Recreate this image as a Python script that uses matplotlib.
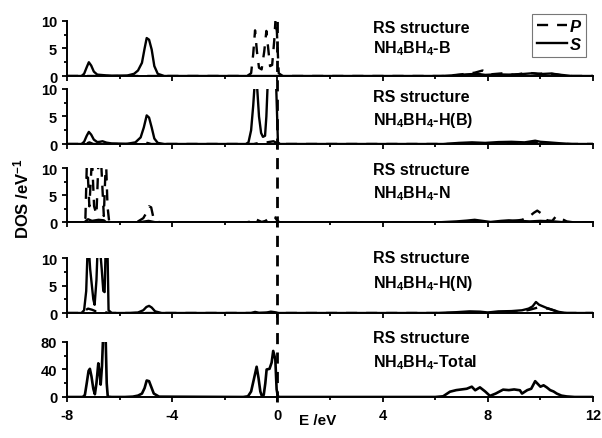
# -*- coding: utf-8 -*-
"""
plot.py
DOS parcial do NH4BH4 (estrutura RS): B, H(B), N, H(N) e total.
"""

import matplotlib
matplotlib.use("Agg")
import matplotlib.pyplot as plt
from matplotlib.ticker import MultipleLocator

plt.rcParams["font.family"] = "Liberation Sans"
plt.rcParams["font.weight"] = "bold"
plt.rcParams["axes.unicode_minus"] = False
plt.rcParams["mathtext.fontset"] = "custom"
plt.rcParams["mathtext.rm"] = "Liberation Sans:bold"
plt.rcParams["mathtext.it"] = "Liberation Sans:bold:italic"
plt.rcParams["mathtext.bf"] = "Liberation Sans:bold"
plt.rcParams["mathtext.default"] = "rm"

FERMI = 0.0

# ---- B ----
b_s_e = [-8, -7.45, -7.35, -7.25, -7.17, -7.08, -6.98, -6.85, -6.6, -6.3, -5.7, -5.45,
         -5.3, -5.15, -5.05, -4.97, -4.88, -4.78, -4.68, -4.55, -4.3, 6.2, 6.8, 7.2, 7.6,
         7.9, 8.3, 8.8, 9.3, 9.7, 10.0, 10.4, 10.8, 11.2, 12]
b_s = [0, 0, 0.4, 1.6, 2.5, 1.9, 0.8, 0.25, 0.15, 0.05, 0.1, 0.4,
       1.0, 2.4, 5.0, 6.9, 6.6, 4.8, 1.8, 0.4, 0, 0, 0.15, 0.3, 0.4,
       0.2, 0.3, 0.25, 0.35, 0.5, 0.35, 0.45, 0.2, 0, 0]
b_p_e = [-8, -1.15, -1.0, -0.92, -0.85, -0.78, -0.7, -0.6, -0.5, -0.42, -0.35, -0.28,
         -0.2, -0.12, -0.07, -0.02, 0.05, 0.2, 6.4, 7.0, 7.5, 7.8, 8.1, 8.6, 9.0, 9.5,
         9.9, 10.3, 10.7, 11.0, 12]
b_p = [0, 0, 0.5, 4.0, 8.3, 4.5, 1.5, 1.2, 4.5, 8.2, 5.0, 1.8,
       2.0, 6.5, 10.5, 8.0, 0.5, 0, 0, 0.3, 0.6, 1.0, 0.3, 0.5, 0.2, 0.6,
       0.4, 0.5, 0.2, 0, 0]

# ---- H(B) ----
hb_s_e = [-8, -7.45, -7.35, -7.25, -7.17, -7.08, -6.98, -6.85, -6.75, -6.65, -6.5, -6.3,
          -5.7, -5.4, -5.2, -5.08, -4.97, -4.88, -4.78, -4.68, -4.55, -4.3, -1.2, -1.1,
          -1.0, -0.92, -0.85, -0.78, -0.7, -0.62, -0.55, -0.47, -0.42, -0.37, -0.25,
          -0.12, -0.05, 0.02, 0.1, 6.3, 6.9, 7.4, 7.9, 8.4, 8.9, 9.4, 9.8, 10.0, 10.3,
          10.7, 11.2, 12]
hb_s = [0, 0, 0.4, 1.5, 2.2, 1.7, 0.8, 0.35, 0.4, 0.5, 0.25, 0.1,
        0.05, 0.3, 1.2, 3.0, 5.2, 4.8, 3.0, 1.0, 0.2, 0, 0, 0.3,
        2.5, 7.0, 12.0, 11.0, 5.0, 2.0, 1.3, 1.5, 5.0, 11.0, 14.0,
        13.0, 11.0, 0.3, 0, 0, 0.2, 0.3, 0.2, 0.35, 0.4, 0.3, 0.6, 0.4, 0.3,
        0.15, 0, 0]
hb_p_e = [-8, -7.3, -7.15, -7.0, -5.1, -4.95, -4.8, -0.9, -0.7, -0.4, -0.15, -0.03, 0.1,
          7.0, 8.0, 9.0, 10.0, 11.0, 12]
hb_p = [0, 0, 0.3, 0, 0, 0.2, 0, 0, 0.2, 0.3, 0.5, 0.2, 0,
        0, 0.15, 0.1, 0.2, 0, 0]

# ---- N ----
n_s_e = [-8, -7.35, -7.2, -7.05, -6.8, -6.6, -6.5, -5.3, -4.9, -4.6, 6.0, 6.8, 7.2,
         7.5, 7.8, 8.1, 8.5, 8.8, 9.2, 9.6, 10.0, 10.5, 11, 12]
n_s = [0, 0, 0.6, 0.3, 0.5, 0.4, 0, 0, 0.3, 0, 0, 0.2, 0.35,
       0.5, 0.3, 0.1, 0.3, 0.4, 0.3, 0.2, 0.3, 0.2, 0, 0]
n_p_e = [-8, -7.4, -7.3, -7.24, -7.15, -7.05, -6.97, -6.88, -6.8, -6.7, -6.6, -6.52,
         -6.46, -6.4, -6.2, -5.5, -5.3, -5.1, -4.98, -4.88, -4.8, -4.72, -4.62, -4.4,
         -1.2, -1.0, -0.88, -0.78, -0.6, -0.45, -0.32, -0.2, -0.1, 0.0, 0.1, 6.5, 8.6,
         9.0, 9.3, 9.55, 9.75, 9.88, 10.05, 10.25, 10.45, 10.6, 10.75, 11.0, 11.3, 12]
n_p = [0, 0, 0.8, 12, 3, 12, 3, 1.5, 12, 11, 1.2, 12,
       3, 0.3, 0, 0, 0.2, 0.8, 1.8, 3.0, 2.8, 1.0, 0.2, 0,
       0, 0.2, 0.8, 0.5, 0.1, 0.3, 0.8, 1.2, 1.0, 0.3, 0, 0, 0,
       0.3, 0.5, 1.0, 1.8, 2.2, 1.6, 0.4, 0.3, 1.2, 0.8, 0.2, 0, 0]

# ---- H(N) ----
hn_s_e = [-8, -7.45, -7.35, -7.27, -7.2, -7.12, -7.0, -6.95, -6.88, -6.82, -6.75, -6.68,
          -6.62, -6.57, -6.52, -6.47, -6.42, -6.3, -5.6, -5.3, -5.1, -4.98, -4.88, -4.78,
          -4.65, -4.4, -1.0, -0.85, -0.7, -0.4, -0.25, -0.1, 0.05, 6.0, 6.8, 7.3, 7.7,
          8.0, 8.4, 8.9, 9.3, 9.55, 9.7, 9.83, 9.95, 10.1, 10.25, 10.45, 10.7, 11.0, 12]
hn_s = [0, 0, 0.5, 4, 14, 8, 2.5, 1.5, 6, 14, 12, 8,
        4.0, 3.8, 14, 14, 0.5, 0, 0, 0.1, 0.5, 1.1, 1.3, 1.0,
        0.3, 0, 0, 0.2, 0.05, 0.1, 0.25, 0.15, 0, 0, 0.15, 0.3, 0.25,
        0.1, 0.3, 0.35, 0.5, 0.8, 1.2, 2.0, 1.5, 1.2, 0.9, 0.6, 0.2, 0, 0]
hn_p_e = [-8, -7.45, -7.3, -7.2, -7.05, -6.9, -6.6, -6.4, 9.0, 9.6, 9.9, 10.3, 10.8, 12]
hn_p = [0, 0, 0.5, 0.8, 0.6, 0.3, 0.2, 0, 0, 0.6, 1.0, 0.8, 0, 0]

# ---- Total ----
tot_e = [-8, -7.4, -7.32, -7.25, -7.18, -7.13, -7.07, -7.0, -6.94, -6.88, -6.81, -6.76,
         -6.72, -6.67, -6.63, -6.53, -6.49, -6.45, -6.3, -5.8, -5.5, -5.3, -5.15, -5.05,
         -4.97, -4.88, -4.8, -4.7, -4.5, -1.3, -1.12, -1.0, -0.9, -0.79, -0.72, -0.65,
         -0.6, -0.52, -0.46, -0.41, -0.3, -0.22, -0.16, -0.08, -0.03, 0.02, 0.1, 6.0,
         6.3, 6.56, 6.8, 7.0, 7.2, 7.39, 7.52, 7.7, 7.9, 8.08, 8.3, 8.58, 8.8, 9.0, 9.22,
         9.3, 9.5, 9.65, 9.8, 10.0, 10.12, 10.24, 10.37, 10.5, 10.62, 10.8, 11.0, 11.3, 12]
tot_s = [0, 0, 3, 20, 38, 41, 30, 12, 4, 20, 49, 35,
         18, 45, 85, 85, 20, 0.5, 0, 0, 0.5, 2, 5, 13,
         24, 23, 15, 5, 0.5, 0, 1, 8, 25, 44, 28, 8,
         2.4, 3, 20, 40, 41, 50, 67, 55, 11, 0.5, 0, 0,
         1, 7.7, 10, 11, 12, 15, 9.8, 14, 8, 1.6, 5, 10.7, 10, 11, 9.8,
         5, 10, 12, 23, 15, 17, 14, 10, 8, 5, 2, 0.8, 0, 0]

painel_nomes = ["B", "H(B)", "N", "H(N)", "Total"]

# posições dos painéis (fração da figura)
posicoes = [
    [0.1113, 0.8246, 0.8738, 0.1253],
    [0.1113, 0.6697, 0.8738, 0.1253],
    [0.1113, 0.4909, 0.8738, 0.1230],
    [0.1113, 0.2847, 0.8738, 0.1253],
    [0.1113, 0.0934, 0.8738, 0.1253],
]
# linhas de base dos textos (pixels a partir do topo)
texto_y = [(33, 53), (102, 125), (175, 198), (263, 288), (343, 367)]

LW = 1.7
DASH = (4.7, 3.8)

fig = plt.figure(figsize=(6.02, 4.39), dpi=100)
eixos = [fig.add_axes(p) for p in posicoes]

dados = [
    (b_s_e, b_s, b_p_e, b_p, 10),
    (hb_s_e, hb_s, hb_p_e, hb_p, 10),
    (n_s_e, n_s, n_p_e, n_p, 10),
    (hn_s_e, hn_s, hn_p_e, hn_p, 10),
    (tot_e, tot_s, None, None, 80),
]

for i, (ax, (se, s, pe, p, ymax)) in enumerate(zip(eixos, dados)):
    ax.patch.set_visible(False)
    if pe is not None:
        ax.plot(pe, p, color="black", lw=LW, dashes=DASH, label="P")
    ax.plot(se, s, color="black", lw=LW if ymax == 10 else 1.9, label="S")
    ax.set_xlim(-8, 12)
    ax.set_ylim(0, ymax)
    for lado in ("top", "right"):
        ax.spines[lado].set_visible(False)
    for lado in ("left", "bottom"):
        ax.spines[lado].set_linewidth(1.4)
    ax.xaxis.set_major_locator(MultipleLocator(4))
    ax.xaxis.set_minor_locator(MultipleLocator(2))
    ax.yaxis.set_major_locator(MultipleLocator(ymax // 2))
    ax.yaxis.set_minor_locator(MultipleLocator(ymax / 4))
    ax.tick_params(which="both", direction="out", width=1.3, labelsize=10.5)
    ax.tick_params(which="major", length=3.6)
    ax.tick_params(which="minor", length=2.2)
    ax.tick_params(axis="y", pad=3.5)
    ax.tick_params(axis="x", pad=4)
    if i < 4:
        ax.tick_params(axis="x", labelbottom=False)

    y1, y2 = texto_y[i]
    fig.text(373 / 602, 1 - y1 / 439, "RS structure", fontsize=11.5,
             fontweight="bold", va="baseline")
    fig.text(373 / 602, 1 - y2 / 439, r"NH$_4$BH$_4$-" + painel_nomes[i],
             fontsize=11.5, fontweight="bold", va="baseline")

# nível de Fermi atravessando todos os painéis
ax5 = eixos[4]
ax5.plot([FERMI, FERMI], [-5 / 55, (398 - 22) / 55], color="black", lw=2.0,
         dashes=(4, 3), transform=ax5.get_xaxis_transform(), clip_on=False)

leg = fig.legend(*eixos[0].get_legend_handles_labels(), loc="upper right",
                 bbox_to_anchor=(586 / 602, 1 - 15 / 439), borderaxespad=0,
                 frameon=True, fancybox=False, handlelength=1.8, handletextpad=0.15,
                 borderpad=0.3, labelspacing=0.15,
                 prop={"size": 12, "style": "italic", "weight": "bold"})
leg.get_frame().set_edgecolor("#555555")
leg.get_frame().set_linewidth(0.8)

fig.text(21 / 602, 1 - 199 / 439, r"DOS /eV$^{-1}$", rotation=90, fontsize=12,
         fontweight="bold", ha="center", va="center")
fig.text(299 / 602, 1 - 425 / 439, "E /eV", fontsize=11, fontweight="bold",
         va="baseline")

fig.savefig("out.png", dpi=100)
